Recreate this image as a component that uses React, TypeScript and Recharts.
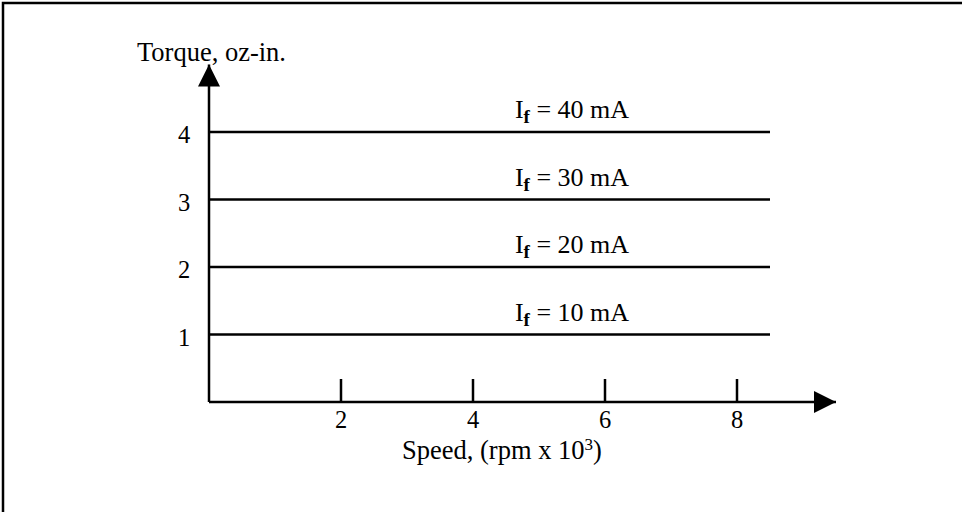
import React from "react";
import { LineChart, Line, XAxis, YAxis, ReferenceDot } from "recharts";

// speed span of each constant-torque line (rpm x 10^3)
const speedSpan = [0, 8.5];
const fieldCurrents = ["10 mA", "20 mA", "30 mA", "40 mA"];
const torqueValues = [1, 2, 3, 4];
const seriesKeys = ["if10", "if20", "if30", "if40"];
const xTicks = [2, 4, 6, 8];
const yTicks = [1, 2, 3, 4];
const labelSpeed = 5.5;

const data = speedSpan.map((speed) => {
  const row: Record<string, number> = { speed };
  seriesKeys.forEach((k, i) => {
    row[k] = torqueValues[i];
  });
  return row;
});

const FONT = "'Liberation Serif', 'Times New Roman', serif";

const Txt = ({ x, y, size = 24.5, anchor = "middle", children }: any) => (
  <text x={x} y={y} textAnchor={anchor} fontFamily={FONT} fontSize={size} fill="#000">
    {children}
  </text>
);

const XTick = ({ x, y, payload }: any) => (
  <g>
    <line x1={x} x2={x} y1={y - 23} y2={y} stroke="#000" strokeWidth={2.5} />
    <Txt x={x} y={y + 26}>
      {payload.value}
    </Txt>
  </g>
);

const YTick = ({ x, y, payload }: any) => (
  <Txt x={x - 25} y={y + 11}>
    {payload.value}
  </Txt>
);

const RightArrow = ({ cx, cy }: any) => (
  <polygon points={`${cx},${cy} ${cx - 22},${cy - 11} ${cx - 22},${cy + 11}`} fill="#000" />
);

const UpArrow = ({ cx, cy }: any) => (
  <polygon points={`${cx},${cy} ${cx - 11},${cy + 22} ${cx + 11},${cy + 22}`} fill="#000" />
);

const CurveLabel = (name: string) => ({ cx, cy }: any) => (
  <text x={cx} y={cy - 14} textAnchor="middle" fontFamily={FONT} fontSize={26} fill="#000">
    <tspan>I</tspan>
    <tspan dy={5} fontSize={19} fontWeight="bold">
      f
    </tspan>
    <tspan dy={-5}>{` = ${name}`}</tspan>
  </text>
);

export default function App() {
  return (
    <div style={{ position: "absolute", left: 0, top: 0, width: 962, height: 512, background: "#fff" }}>
      <svg width={962} height={512} style={{ position: "absolute", left: 0, top: 0 }}>
        <rect x={3} y={3} width={1000} height={600} fill="none" stroke="#000" strokeWidth={2.5} />
        <Txt x={137} y={61} size={26.5} anchor="start">
          Torque, oz-in.
        </Txt>
        <Txt x={402} y={459} size={26.5} anchor="start">
          Speed, (rpm x 10<tspan dy={-9} fontSize={17}>3</tspan>
          <tspan dy={9}>)</tspan>
        </Txt>
      </svg>
      <div style={{ position: "absolute", left: 0, top: 0 }}>
        <LineChart
          width={962}
          height={512}
          data={data}
          margin={{ top: 64.5, right: 126, bottom: 50, left: 149 }}
        >
          <XAxis
            dataKey="speed"
            type="number"
            domain={[0, 9.5]}
            ticks={xTicks}
            tick={<XTick />}
            tickLine={false}
            tickSize={0}
            tickMargin={0}
            height={60}
            axisLine={{ stroke: "#000", strokeWidth: 2.5 }}
          />
          <YAxis
            type="number"
            domain={[0, 5]}
            ticks={yTicks}
            tick={<YTick />}
            tickLine={false}
            tickSize={0}
            tickMargin={0}
            width={60}
            axisLine={{ stroke: "#000", strokeWidth: 2.5 }}
          />
          {seriesKeys.map((k) => (
            <Line
              key={k}
              dataKey={k}
              type="linear"
              stroke="#000"
              strokeWidth={2.5}
              dot={false}
              activeDot={false}
              isAnimationActive={false}
            />
          ))}
          {torqueValues.map((t, i) => (
            <ReferenceDot
              key={fieldCurrents[i]}
              x={labelSpeed}
              y={t}
              r={0}
              shape={CurveLabel(fieldCurrents[i])}
              ifOverflow="visible"
            />
          ))}
          <ReferenceDot x={9.5} y={0} r={0} shape={<RightArrow />} ifOverflow="visible" />
          <ReferenceDot x={0} y={5} r={0} shape={<UpArrow />} ifOverflow="visible" />
        </LineChart>
      </div>
    </div>
  );
}
